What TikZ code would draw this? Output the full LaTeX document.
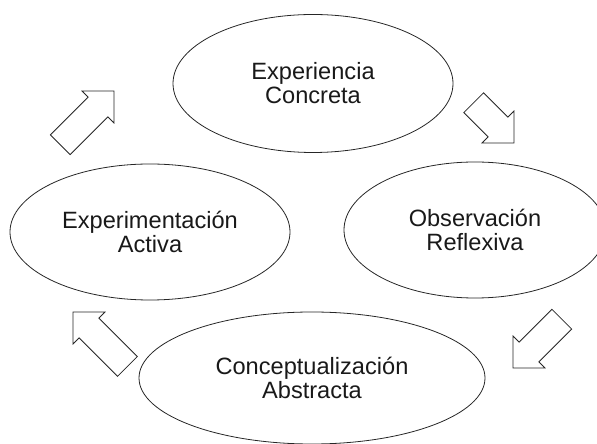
\documentclass[tikz,border=0pt]{standalone}
\usepackage{fontspec}
\setmainfont{Liberation Sans}
\usepackage{tikz}
\usetikzlibrary{shapes,positioning}
\tikzset{ell/.style={ellipse,draw=black!85,line width=0.8pt,inner sep=0pt,align=center,text=black!90,font=\fontsize{23.6}{24}\selectfont}}
\tikzset{hollow/.style={draw=black!85,line width=0.8pt,line join=miter}}
\tikzset{blockarrow/.pic={\draw[hollow] (0,0) -- (-22.6,22.6) -- (-22.6,14) -- (-#1,14) -- (-#1,-14) -- (-22.6,-14) -- (-22.6,-22.6) -- cycle;}}

\begin{document}
\begin{tikzpicture}[x=1pt,y=1pt]
        \clip (0,0) rectangle (597,444);
        \node[ell,minimum width=280,minimum height=138] (ec) at (313,360.5) {Experiencia\\Concreta};
        \node[ell,minimum width=262,minimum height=136] (or) at (475,214) {Observación\\Reflexiva};
        \node[ell,minimum width=346,minimum height=132] (ca) at (312,66) {Conceptualización\\Abstracta};
        \node[ell,minimum width=280,minimum height=136] (ea) at (150,212) {Experimentación\\Activa};

        \pic[rotate=45] at (114,353) {blockarrow=76};
        \pic[rotate=-45] at (514,301) {blockarrow=57};
        \pic[rotate=-135] at (513,76) {blockarrow=69};
        \pic[rotate=135] at (73,132) {blockarrow=77};
    \end{tikzpicture}
\end{document}
